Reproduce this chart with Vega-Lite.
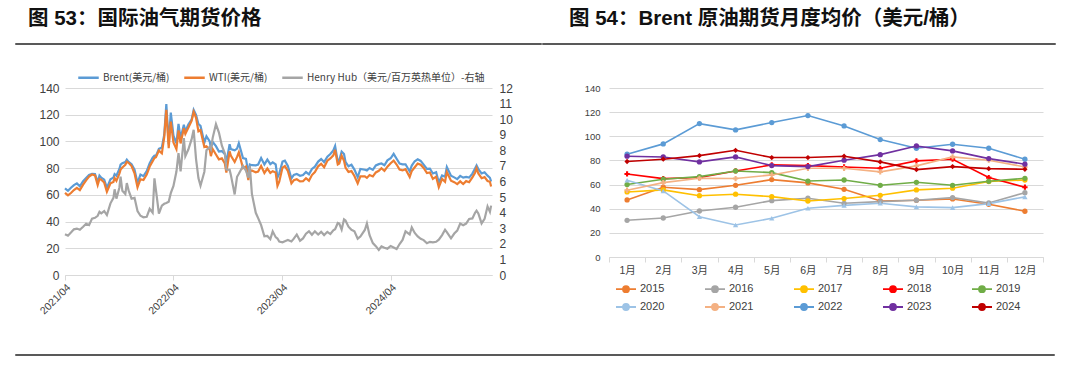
{
  "$schema": "https://vega.github.io/schema/vega-lite/v6.json",
  "background": "white",
  "padding": {"left": 14, "top": 8, "right": 10, "bottom": 5},
  "spacing": 31,
  "config": {
    "view": {"stroke": null},
    "axis": {"labelFont": "Liberation Sans, Noto Sans CJK SC", "labelColor": "#404040", "gridColor": "#d9d9d9", "domainColor": "#d9d9d9", "tickColor": "#d9d9d9"},
    "legend": {"labelFont": "Liberation Sans, Noto Sans CJK SC", "labelColor": "#404040"},
    "title": {"anchor": "start", "font": "Liberation Sans, Noto Sans CJK SC", "fontSize": 20.5, "fontWeight": "bold", "color": "#111111", "offset": 8}
  },
  "resolve": {"scale": {"color": "independent"}, "legend": {"color": "independent"}},
  "vconcat": [
    {
      "spacing": 17,
      "resolve": {"scale": {"color": "independent"}, "legend": {"color": "independent"}},
      "vconcat": [
        {
          "spacing": -4,
          "hconcat": [
            {"width": 526, "height": 1, "view": {"stroke": "#595959"}, "data": {"values": [{}]}, "mark": {"type": "text", "text": ""}, "title": {"text": "图 53：国际油气期货价格", "dx": 13}},
            {"width": 513, "height": 1, "view": {"stroke": "#595959"}, "data": {"values": [{}]}, "mark": {"type": "text", "text": ""}, "title": {"text": "图 54：Brent 原油期货月度均价（美元/桶）", "dx": 27}}
          ]
        },
        {
          "spacing": 71,
          "resolve": {"scale": {"color": "independent"}, "legend": {"color": "independent"}},
          "hconcat": [
            {
              "spacing": 0,
              "resolve": {"scale": {"color": "independent"}, "legend": {"color": "independent"}},
              "hconcat": [
                {"width": 1, "height": 1, "data": {"values": [{}]}, "mark": {"type": "text", "text": ""}},
                {
                  "width": 427,
                  "height": 187,
                  "data": {"values": [
                    {"d":"2021-04-01","b":64.9,"w":61.5,"h":2.62},
                    {"d":"2021-04-11","b":63.0,"w":59.6,"h":2.52},
                    {"d":"2021-04-21","b":65.3,"w":61.4,"h":2.72},
                    {"d":"2021-05-01","b":67.3,"w":63.6,"h":2.93},
                    {"d":"2021-05-11","b":68.6,"w":65.3,"h":2.98},
                    {"d":"2021-05-21","b":66.4,"w":63.6,"h":2.90},
                    {"d":"2021-06-01","b":70.3,"w":67.7,"h":3.10},
                    {"d":"2021-06-11","b":72.7,"w":70.9,"h":3.29},
                    {"d":"2021-06-21","b":74.9,"w":73.7,"h":3.21},
                    {"d":"2021-07-01","b":75.8,"w":75.2,"h":3.62},
                    {"d":"2021-07-11","b":75.6,"w":74.6,"h":3.67},
                    {"d":"2021-07-20","b":69.4,"w":67.4,"h":3.80},
                    {"d":"2021-07-26","b":74.5,"w":71.9,"h":4.05},
                    {"d":"2021-08-01","b":72.9,"w":71.3,"h":3.95},
                    {"d":"2021-08-11","b":71.4,"w":69.2,"h":4.10},
                    {"d":"2021-08-20","b":65.2,"w":62.3,"h":3.85},
                    {"d":"2021-09-01","b":71.6,"w":68.6,"h":4.60},
                    {"d":"2021-09-11","b":72.9,"w":69.7,"h":4.95},
                    {"d":"2021-09-15","b":75.5,"w":72.6,"h":5.50},
                    {"d":"2021-09-21","b":74.4,"w":70.5,"h":4.90},
                    {"d":"2021-10-01","b":79.3,"w":75.9,"h":5.60},
                    {"d":"2021-10-05","b":82.6,"w":78.9,"h":6.31},
                    {"d":"2021-10-11","b":83.7,"w":80.5,"h":5.40},
                    {"d":"2021-10-21","b":84.6,"w":82.5,"h":5.20},
                    {"d":"2021-10-26","b":86.4,"w":84.7,"h":5.90},
                    {"d":"2021-11-01","b":84.7,"w":84.0,"h":5.43},
                    {"d":"2021-11-11","b":82.9,"w":81.6,"h":4.90},
                    {"d":"2021-11-21","b":78.9,"w":76.1,"h":4.95},
                    {"d":"2021-12-01","b":68.9,"w":65.6,"h":4.10},
                    {"d":"2021-12-11","b":75.2,"w":71.7,"h":3.80},
                    {"d":"2021-12-21","b":74.0,"w":71.1,"h":3.70},
                    {"d":"2022-01-01","b":77.8,"w":75.2,"h":3.73},
                    {"d":"2022-01-11","b":83.7,"w":81.2,"h":4.25},
                    {"d":"2022-01-21","b":87.9,"w":85.1,"h":4.00},
                    {"d":"2022-01-27","b":89.3,"w":87.6,"h":6.20},
                    {"d":"2022-02-01","b":89.2,"w":88.2,"h":5.46},
                    {"d":"2022-02-11","b":94.4,"w":93.1,"h":3.94},
                    {"d":"2022-02-21","b":95.4,"w":91.1,"h":4.45},
                    {"d":"2022-03-01","b":105.0,"w":103.4,"h":4.57},
                    {"d":"2022-03-08","b":128.0,"w":123.7,"h":4.62},
                    {"d":"2022-03-16","b":98.0,"w":95.0,"h":4.70},
                    {"d":"2022-03-23","b":121.6,"w":114.9,"h":5.25},
                    {"d":"2022-04-01","b":104.4,"w":99.3,"h":5.72},
                    {"d":"2022-04-11","b":98.5,"w":94.3,"h":6.64},
                    {"d":"2022-04-18","b":113.2,"w":108.2,"h":7.82},
                    {"d":"2022-04-25","b":102.3,"w":98.5,"h":6.65},
                    {"d":"2022-05-06","b":112.4,"w":109.8,"h":8.78},
                    {"d":"2022-05-11","b":107.5,"w":105.7,"h":7.63},
                    {"d":"2022-05-21","b":112.6,"w":110.3,"h":8.05},
                    {"d":"2022-06-01","b":116.3,"w":115.3,"h":8.70},
                    {"d":"2022-06-08","b":123.6,"w":122.1,"h":9.32},
                    {"d":"2022-06-16","b":119.8,"w":117.6,"h":7.44},
                    {"d":"2022-06-24","b":113.1,"w":107.6,"h":6.22},
                    {"d":"2022-07-01","b":111.6,"w":108.4,"h":5.73},
                    {"d":"2022-07-14","b":99.1,"w":95.8,"h":6.63},
                    {"d":"2022-07-21","b":103.9,"w":96.4,"h":8.00},
                    {"d":"2022-08-01","b":100.0,"w":93.9,"h":8.22},
                    {"d":"2022-08-05","b":94.9,"w":89.0,"h":8.06},
                    {"d":"2022-08-11","b":99.6,"w":94.3,"h":8.80},
                    {"d":"2022-08-22","b":96.5,"w":90.2,"h":9.68},
                    {"d":"2022-09-01","b":92.4,"w":86.6,"h":9.14},
                    {"d":"2022-09-11","b":92.8,"w":87.3,"h":8.30},
                    {"d":"2022-09-21","b":90.5,"w":83.5,"h":7.80},
                    {"d":"2022-09-26","b":84.1,"w":76.7,"h":6.77},
                    {"d":"2022-10-07","b":97.9,"w":92.6,"h":6.75},
                    {"d":"2022-10-11","b":94.3,"w":89.4,"h":6.44},
                    {"d":"2022-10-24","b":93.3,"w":84.6,"h":5.17},
                    {"d":"2022-11-01","b":94.6,"w":88.4,"h":6.30},
                    {"d":"2022-11-07","b":98.6,"w":91.8,"h":6.50},
                    {"d":"2022-11-21","b":87.5,"w":80.0,"h":7.00},
                    {"d":"2022-12-01","b":86.9,"w":81.2,"h":6.70},
                    {"d":"2022-12-09","b":76.1,"w":71.0,"h":6.25},
                    {"d":"2022-12-14","b":82.7,"w":77.3,"h":7.00},
                    {"d":"2022-12-21","b":82.2,"w":78.3,"h":5.20},
                    {"d":"2023-01-03","b":82.1,"w":76.9,"h":3.99},
                    {"d":"2023-01-11","b":82.7,"w":77.4,"h":3.65},
                    {"d":"2023-01-21","b":87.6,"w":81.6,"h":3.20},
                    {"d":"2023-02-01","b":82.8,"w":76.4,"h":2.49},
                    {"d":"2023-02-11","b":86.4,"w":79.7,"h":2.51},
                    {"d":"2023-02-21","b":83.0,"w":76.4,"h":2.30},
                    {"d":"2023-03-01","b":84.3,"w":77.7,"h":2.80},
                    {"d":"2023-03-11","b":82.8,"w":76.7,"h":2.43},
                    {"d":"2023-03-17","b":73.0,"w":66.7,"h":2.34},
                    {"d":"2023-03-23","b":75.9,"w":69.9,"h":2.15},
                    {"d":"2023-04-03","b":84.9,"w":80.4,"h":2.10},
                    {"d":"2023-04-11","b":85.6,"w":81.5,"h":2.17},
                    {"d":"2023-04-21","b":81.7,"w":77.9,"h":2.25},
                    {"d":"2023-05-03","b":72.3,"w":68.6,"h":2.15},
                    {"d":"2023-05-11","b":74.9,"w":70.9,"h":2.33},
                    {"d":"2023-05-21","b":75.6,"w":71.7,"h":2.60},
                    {"d":"2023-06-01","b":74.3,"w":70.1,"h":2.20},
                    {"d":"2023-06-11","b":74.8,"w":70.2,"h":2.35},
                    {"d":"2023-06-21","b":77.1,"w":72.5,"h":2.65},
                    {"d":"2023-07-01","b":75.4,"w":70.6,"h":2.80},
                    {"d":"2023-07-11","b":79.4,"w":74.8,"h":2.58},
                    {"d":"2023-07-21","b":81.1,"w":77.1,"h":2.80},
                    {"d":"2023-08-01","b":84.9,"w":81.4,"h":2.60},
                    {"d":"2023-08-11","b":86.8,"w":83.2,"h":2.77},
                    {"d":"2023-08-21","b":84.5,"w":80.7,"h":2.56},
                    {"d":"2023-09-01","b":88.6,"w":85.6,"h":2.77},
                    {"d":"2023-09-11","b":90.6,"w":87.3,"h":2.63},
                    {"d":"2023-09-21","b":93.3,"w":89.6,"h":2.87},
                    {"d":"2023-09-27","b":96.6,"w":93.7,"h":2.94},
                    {"d":"2023-10-06","b":84.6,"w":82.8,"h":3.34},
                    {"d":"2023-10-11","b":85.8,"w":83.5,"h":3.30},
                    {"d":"2023-10-19","b":92.4,"w":89.4,"h":2.92},
                    {"d":"2023-10-27","b":90.5,"w":85.5,"h":3.57},
                    {"d":"2023-11-01","b":84.6,"w":80.4,"h":3.50},
                    {"d":"2023-11-11","b":81.4,"w":77.2,"h":3.10},
                    {"d":"2023-11-21","b":82.5,"w":77.8,"h":2.90},
                    {"d":"2023-12-01","b":78.9,"w":74.1,"h":2.81},
                    {"d":"2023-12-12","b":73.2,"w":68.6,"h":2.33},
                    {"d":"2023-12-21","b":79.4,"w":73.9,"h":2.47},
                    {"d":"2024-01-05","b":78.8,"w":73.8,"h":2.89},
                    {"d":"2024-01-12","b":78.3,"w":72.7,"h":3.31},
                    {"d":"2024-01-21","b":80.1,"w":74.8,"h":2.55},
                    {"d":"2024-02-01","b":78.7,"w":73.8,"h":2.05},
                    {"d":"2024-02-11","b":82.0,"w":76.8,"h":1.85},
                    {"d":"2024-02-21","b":83.0,"w":78.0,"h":1.61},
                    {"d":"2024-03-01","b":83.5,"w":79.9,"h":1.84},
                    {"d":"2024-03-11","b":82.2,"w":77.9,"h":1.75},
                    {"d":"2024-03-21","b":85.8,"w":81.1,"h":1.69},
                    {"d":"2024-04-01","b":87.4,"w":83.7,"h":1.86},
                    {"d":"2024-04-11","b":90.7,"w":85.6,"h":1.77},
                    {"d":"2024-04-21","b":87.0,"w":82.7,"h":1.67},
                    {"d":"2024-05-01","b":83.4,"w":79.0,"h":1.99},
                    {"d":"2024-05-11","b":82.8,"w":78.3,"h":2.25},
                    {"d":"2024-05-21","b":82.9,"w":79.2,"h":2.80},
                    {"d":"2024-06-04","b":77.5,"w":73.3,"h":2.60},
                    {"d":"2024-06-11","b":81.9,"w":77.9,"h":3.05},
                    {"d":"2024-06-21","b":85.2,"w":80.7,"h":2.70},
                    {"d":"2024-07-01","b":86.6,"w":83.4,"h":2.48},
                    {"d":"2024-07-11","b":85.4,"w":82.6,"h":2.32},
                    {"d":"2024-07-21","b":82.6,"w":80.1,"h":2.24},
                    {"d":"2024-08-01","b":79.5,"w":76.3,"h":2.04},
                    {"d":"2024-08-11","b":79.7,"w":76.8,"h":2.13},
                    {"d":"2024-08-21","b":76.0,"w":71.9,"h":2.10},
                    {"d":"2024-09-01","b":76.9,"w":73.6,"h":2.13},
                    {"d":"2024-09-10","b":69.2,"w":65.8,"h":2.27},
                    {"d":"2024-09-21","b":74.5,"w":71.9,"h":2.56},
                    {"d":"2024-10-01","b":73.6,"w":69.8,"h":2.90},
                    {"d":"2024-10-07","b":80.9,"w":77.1,"h":2.75},
                    {"d":"2024-10-21","b":74.3,"w":70.6,"h":2.35},
                    {"d":"2024-11-01","b":73.1,"w":69.5,"h":2.66},
                    {"d":"2024-11-11","b":71.8,"w":68.0,"h":2.85},
                    {"d":"2024-11-21","b":74.2,"w":70.1,"h":3.30},
                    {"d":"2024-12-01","b":72.9,"w":68.1,"h":3.20},
                    {"d":"2024-12-11","b":73.5,"w":70.3,"h":3.30},
                    {"d":"2024-12-21","b":72.9,"w":69.5,"h":3.60},
                    {"d":"2025-01-01","b":75.9,"w":73.1,"h":3.63},
                    {"d":"2025-01-10","b":79.8,"w":76.6,"h":3.99},
                    {"d":"2025-01-15","b":82.0,"w":80.0,"h":4.13},
                    {"d":"2025-01-21","b":79.3,"w":76.0,"h":3.95},
                    {"d":"2025-02-01","b":76.0,"w":72.5,"h":3.31},
                    {"d":"2025-02-11","b":76.9,"w":73.3,"h":3.60},
                    {"d":"2025-02-21","b":74.4,"w":70.4,"h":4.40},
                    {"d":"2025-03-01","b":72.8,"w":69.8,"h":4.05},
                    {"d":"2025-03-05","b":70.0,"w":66.3,"h":4.45}
                  ]},
                  "transform": [{"fold": ["b", "w", "h"], "as": ["s", "v"]}],
                  "encoding": {
                    "x": {
                      "field": "d", "type": "temporal",
                      "scale": {"type": "utc", "domain": [{"year": 2021, "month": 4, "date": 1, "utc": true}, {"year": 2025, "month": 3, "date": 8, "utc": true}]},
                      "axis": {
                        "title": null, "format": "%Y/%m", "labelAngle": -45, "labelFontSize": 10.5, "labelOverlap": false, "tickSize": 5, "grid": false, "labelPadding": 2,
                        "values": [{"year": 2021, "month": 4, "date": 1, "utc": true}, {"year": 2022, "month": 4, "date": 1, "utc": true}, {"year": 2023, "month": 4, "date": 1, "utc": true}, {"year": 2024, "month": 4, "date": 1, "utc": true}]
                      }
                    },
                    "color": {
                      "field": "s", "type": "nominal",
                      "scale": {"domain": ["b", "w", "h"], "range": ["#5B9BD5", "#ED7D31", "#A5A5A5"]},
                      "legend": {
                        "orient": "none", "legendX": 12, "legendY": -22, "direction": "horizontal", "title": null,
                        "symbolType": "stroke", "symbolSize": 420, "symbolStrokeWidth": 2.5, "labelFontSize": 10, "labelFont": "Noto Sans CJK SC", "labelOffset": 3, "columnPadding": 9, "labelLimit": 400,
                        "labelExpr": "datum.label == 'b' ? 'Brent(美元/桶)' : datum.label == 'w' ? 'WTI(美元/桶)' : 'Henry Hub（美元/百万英热单位）-右轴'"
                      }
                    }
                  },
                  "layer": [
                    {
                      "transform": [{"filter": "datum.s != 'h'"}],
                      "mark": {"type": "line", "strokeWidth": 2.2},
                      "encoding": {
                        "y": {
                          "field": "v", "type": "quantitative", "scale": {"domain": [0, 140]},
                          "axis": {"title": "字", "titleColor": "#ffffff", "titleFontSize": 10, "titlePadding": 12, "values": [0, 20, 40, 60, 80, 100, 120, 140], "domain": false, "ticks": false, "labelPadding": 6, "labelFontSize": 12, "grid": true}
                        }
                      }
                    },
                    {
                      "transform": [{"filter": "datum.s == 'h'"}],
                      "mark": {"type": "line", "strokeWidth": 2.2},
                      "encoding": {
                        "y": {
                          "field": "v", "type": "quantitative", "scale": {"domain": [0, 12]},
                          "axis": {"orient": "right", "title": null, "values": [0, 1, 2, 3, 4, 5, 6, 7, 8, 9, 10, 11, 12], "domain": false, "ticks": false, "labelPadding": 7, "labelFontSize": 12, "grid": false}
                        }
                      }
                    }
                  ],
                  "resolve": {"scale": {"y": "independent"}}
                }
              ]
            },
            {
              "width": 434,
              "height": 169,
              "data": {"values": [
                {"y":"2015","m":"1月","p":47.3},{"y":"2015","m":"2月","p":57.8},{"y":"2015","m":"3月","p":55.8},{"y":"2015","m":"4月","p":59.4},{"y":"2015","m":"5月","p":64.1},{"y":"2015","m":"6月","p":61.4},{"y":"2015","m":"7月","p":56.1},{"y":"2015","m":"8月","p":46.4},{"y":"2015","m":"9月","p":47.0},{"y":"2015","m":"10月","p":48.1},{"y":"2015","m":"11月","p":43.7},{"y":"2015","m":"12月","p":37.9},
                {"y":"2016","m":"1月","p":30.4},{"y":"2016","m":"2月","p":32.3},{"y":"2016","m":"3月","p":38.1},{"y":"2016","m":"4月","p":41.2},{"y":"2016","m":"5月","p":46.7},{"y":"2016","m":"6月","p":48.7},{"y":"2016","m":"7月","p":44.5},{"y":"2016","m":"8月","p":45.9},{"y":"2016","m":"9月","p":47.0},{"y":"2016","m":"10月","p":49.2},{"y":"2016","m":"11月","p":44.8},{"y":"2016","m":"12月","p":53.3},
                {"y":"2017","m":"1月","p":53.9},{"y":"2017","m":"2月","p":55.6},{"y":"2017","m":"3月","p":50.8},{"y":"2017","m":"4月","p":52.0},{"y":"2017","m":"5月","p":50.0},{"y":"2017","m":"6月","p":46.4},{"y":"2017","m":"7月","p":48.4},{"y":"2017","m":"8月","p":51.1},{"y":"2017","m":"9月","p":55.6},{"y":"2017","m":"10月","p":57.0},{"y":"2017","m":"11月","p":62.5},{"y":"2017","m":"12月","p":63.8},
                {"y":"2018","m":"1月","p":68.8},{"y":"2018","m":"2月","p":64.9},{"y":"2018","m":"3月","p":65.8},{"y":"2018","m":"4月","p":71.3},{"y":"2018","m":"5月","p":76.3},{"y":"2018","m":"6月","p":75.7},{"y":"2018","m":"7月","p":74.6},{"y":"2018","m":"8月","p":73.5},{"y":"2018","m":"9月","p":79.6},{"y":"2018","m":"10月","p":81.0},{"y":"2018","m":"11月","p":65.8},{"y":"2018","m":"12月","p":57.8},
                {"y":"2019","m":"1月","p":60.0},{"y":"2019","m":"2月","p":64.4},{"y":"2019","m":"3月","p":66.6},{"y":"2019","m":"4月","p":71.3},{"y":"2019","m":"5月","p":69.9},{"y":"2019","m":"6月","p":62.9},{"y":"2019","m":"7月","p":63.8},{"y":"2019","m":"8月","p":59.4},{"y":"2019","m":"9月","p":61.9},{"y":"2019","m":"10月","p":59.4},{"y":"2019","m":"11月","p":62.7},{"y":"2019","m":"12月","p":65.2},
                {"y":"2020","m":"1月","p":63.6},{"y":"2020","m":"2月","p":54.7},{"y":"2020","m":"3月","p":33.4},{"y":"2020","m":"4月","p":26.5},{"y":"2020","m":"5月","p":32.1},{"y":"2020","m":"6月","p":40.4},{"y":"2020","m":"7月","p":42.8},{"y":"2020","m":"8月","p":44.5},{"y":"2020","m":"9月","p":41.5},{"y":"2020","m":"10月","p":40.9},{"y":"2020","m":"11月","p":44.2},{"y":"2020","m":"12月","p":49.8},
                {"y":"2021","m":"1月","p":55.3},{"y":"2021","m":"2月","p":61.6},{"y":"2021","m":"3月","p":65.2},{"y":"2021","m":"4月","p":65.0},{"y":"2021","m":"5月","p":68.0},{"y":"2021","m":"6月","p":73.5},{"y":"2021","m":"7月","p":73.5},{"y":"2021","m":"8月","p":70.5},{"y":"2021","m":"9月","p":75.5},{"y":"2021","m":"10月","p":82.9},{"y":"2021","m":"11月","p":80.2},{"y":"2021","m":"12月","p":74.6},
                {"y":"2022","m":"1月","p":85.2},{"y":"2022","m":"2月","p":93.7},{"y":"2022","m":"3月","p":110.5},{"y":"2022","m":"4月","p":105.3},{"y":"2022","m":"5月","p":111.4},{"y":"2022","m":"6月","p":117.2},{"y":"2022","m":"7月","p":108.6},{"y":"2022","m":"8月","p":97.3},{"y":"2022","m":"9月","p":90.1},{"y":"2022","m":"10月","p":93.4},{"y":"2022","m":"11月","p":90.1},{"y":"2022","m":"12月","p":81.0},
                {"y":"2023","m":"1月","p":83.5},{"y":"2023","m":"2月","p":82.9},{"y":"2023","m":"3月","p":78.8},{"y":"2023","m":"4月","p":82.9},{"y":"2023","m":"5月","p":75.7},{"y":"2023","m":"6月","p":74.9},{"y":"2023","m":"7月","p":80.2},{"y":"2023","m":"8月","p":84.8},{"y":"2023","m":"9月","p":92.0},{"y":"2023","m":"10月","p":87.9},{"y":"2023","m":"11月","p":81.5},{"y":"2023","m":"12月","p":76.9},
                {"y":"2024","m":"1月","p":79.1},{"y":"2024","m":"2月","p":81.0},{"y":"2024","m":"3月","p":84.0},{"y":"2024","m":"4月","p":88.4},{"y":"2024","m":"5月","p":82.4},{"y":"2024","m":"6月","p":82.4},{"y":"2024","m":"7月","p":83.5},{"y":"2024","m":"8月","p":78.8},{"y":"2024","m":"9月","p":72.4},{"y":"2024","m":"10月","p":74.9},{"y":"2024","m":"11月","p":73.2},{"y":"2024","m":"12月","p":72.7}
              ]},
              "encoding": {
                "x": {
                  "field": "m", "type": "ordinal",
                  "sort": ["1月", "2月", "3月", "4月", "5月", "6月", "7月", "8月", "9月", "10月", "11月", "12月"],
                  "scale": {"type": "band", "paddingInner": 0, "paddingOuter": 0},
                  "axis": {"title": null, "labelAngle": 0, "tickBand": "extent", "labelFontSize": 10.5, "labelPadding": 3, "tickSize": 5, "grid": false}
                },
                "y": {
                  "field": "p", "type": "quantitative", "scale": {"domain": [0, 140]},
                  "axis": {"title": null, "values": [0, 20, 40, 60, 80, 100, 120, 140], "domain": false, "ticks": false, "labelFontSize": 9.5, "labelPadding": 9, "grid": true}
                },
                "color": {
                  "field": "y", "type": "nominal",
                  "scale": {"domain": ["2015", "2016", "2017", "2018", "2019", "2020", "2021", "2022", "2023", "2024"], "range": ["#ED7D31", "#A5A5A5", "#FFC000", "#FF0000", "#70AD47", "#9DC3E6", "#F4B183", "#5B9BD5", "#7030A0", "#C00000"]},
                  "legend": {
                    "orient": "none", "legendX": 6, "legendY": 190, "direction": "horizontal", "columns": 5, "title": null,
                    "symbolType": "M-1,0H1M0.3,0A0.3,0.3,0,1,1,-0.3,0A0.3,0.3,0,1,1,0.3,0Z", "symbolSize": 400, "symbolStrokeWidth": 1.8,
                    "labelFontSize": 11, "labelOffset": 3, "columnPadding": 36, "rowPadding": -1,
                    "encode": {"symbols": {"update": {"fill": {"signal": "['#ED7D31','#A5A5A5','#FFC000','#FF0000','#70AD47','#9DC3E6','#F4B183','#5B9BD5','#7030A0','#C00000'][indexof(['2015','2016','2017','2018','2019','2020','2021','2022','2023','2024'], datum.value)]"}}}}
                  }
                }
              },
              "layer": [
                {"mark": {"type": "line", "strokeWidth": 1.6}},
                {
                  "mark": {"type": "point", "filled": true, "size": 28, "opacity": 1},
                  "encoding": {
                    "shape": {
                      "field": "y", "type": "nominal",
                      "scale": {"domain": ["2015", "2016", "2017", "2018", "2019", "2020", "2021", "2022", "2023", "2024"], "range": ["circle", "circle", "circle", "cross", "circle", "triangle-up", "cross", "circle", "circle", "diamond"]},
                      "legend": null
                    }
                  }
                }
              ]
            }
          ]
        }
      ]
    },
    {"width": 1039, "height": 1, "view": {"stroke": "#595959"}, "data": {"values": [{}]}, "mark": {"type": "text", "text": ""}}
  ]
}
